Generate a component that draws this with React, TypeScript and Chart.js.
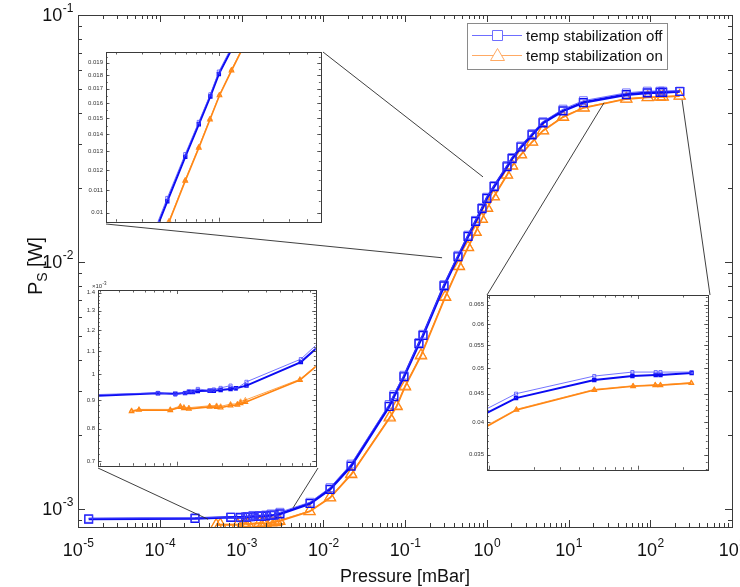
import React, { useEffect, useRef } from "react";
import { Chart, registerables } from "chart.js";
Chart.register(...registerables);

// ---------------- data ----------------
const offPressure = [1.35e-5, 2.7e-4, 7.4e-4, 9.7e-4, 1.13e-3, 1.2e-3, 1.28e-3, 1.38e-3, 1.66e-3, 1.77e-3, 1.97e-3, 2.3e-3, 2.5e-3, 2.95e-3, 6.9e-3, 1.21e-2, 2.19e-2, 6.4e-2, 7.3e-2, 9.7e-2, 0.148, 0.166, 0.3, 0.445, 0.59, 0.73, 0.875, 1.0, 1.23, 1.77, 2.04, 2.62, 3.58, 4.88, 8.57, 15.2, 51, 92, 132, 142, 230];
const offRunThin = [9.15e-4, 9.2e-4, 9.27e-4, 9.2e-4, 9.27e-4, 9.33e-4, 9.32e-4, 9.42e-4, 9.36e-4, 9.4e-4, 9.46e-4, 9.55e-4, 9.42e-4, 9.7e-4, 1.065e-3, 1.22e-3, 1.52e-3, 2.65e-3, 2.9e-3, 3.48e-3, 4.72e-3, 5.1e-3, 8.1e-3, 1.065e-2, 1.285e-2, 1.475e-2, 1.66e-2, 1.83e-2, 2.04e-2, 2.46e-2, 2.65e-2, 2.95e-2, 3.31e-2, 3.7e-2, 4.16e-2, 4.5e-2, 4.84e-2, 4.92e-2, 4.92e-2, 4.92e-2, 4.92e-2];
const offRunThick = [9.1e-4, 9.15e-4, 9.25e-4, 9.24e-4, 9.26e-4, 9.3e-4, 9.3e-4, 9.34e-4, 9.35e-4, 9.35e-4, 9.38e-4, 9.42e-4, 9.45e-4, 9.55e-4, 1.052e-3, 1.2e-3, 1.49e-3, 2.6e-3, 2.85e-3, 3.43e-3, 4.67e-3, 5.04e-3, 8.0e-3, 1.05e-2, 1.27e-2, 1.46e-2, 1.645e-2, 1.81e-2, 2.02e-2, 2.43e-2, 2.62e-2, 2.92e-2, 3.27e-2, 3.66e-2, 4.09e-2, 4.42e-2, 4.76e-2, 4.84e-2, 4.86e-2, 4.86e-2, 4.9e-2];

const onPressure = [4.9e-4, 5.5e-4, 8.97e-4, 1.05e-3, 1.11e-3, 1.2e-3, 1.66e-3, 1.85e-3, 1.97e-3, 2.3e-3, 2.56e-3, 2.69e-3, 2.9e-3, 6.8e-3, 1.21e-2, 2.2e-2, 6.5e-2, 7.9e-2, 0.1, 0.157, 0.31, 0.457, 0.59, 0.73, 0.87, 1.01, 1.22, 1.77, 2.04, 2.62, 3.58, 4.88, 8.57, 15.3, 51, 93, 131, 142, 229];
const onRunThin = [8.62e-4, 8.66e-4, 8.66e-4, 8.78e-4, 8.74e-4, 8.72e-4, 8.79e-4, 8.8e-4, 8.77e-4, 8.85e-4, 8.86e-4, 8.95e-4, 9.0e-4, 9.8e-4, 1.115e-3, 1.39e-3, 2.36e-3, 2.62e-3, 3.15e-3, 4.2e-3, 7.25e-3, 9.65e-3, 1.15e-2, 1.325e-2, 1.495e-2, 1.658e-2, 1.845e-2, 2.26e-2, 2.46e-2, 2.73e-2, 3.07e-2, 3.41e-2, 3.88e-2, 4.22e-2, 4.58e-2, 4.65e-2, 4.67e-2, 4.67e-2, 4.71e-2];
const onRunThick = [8.59e-4, 8.64e-4, 8.63e-4, 8.74e-4, 8.7e-4, 8.68e-4, 8.75e-4, 8.74e-4, 8.72e-4, 8.8e-4, 8.82e-4, 8.88e-4, 8.92e-4, 9.77e-4, 1.11e-3, 1.38e-3, 2.34e-3, 2.6e-3, 3.13e-3, 4.18e-3, 7.2e-3, 9.6e-3, 1.146e-2, 1.32e-2, 1.49e-2, 1.652e-2, 1.838e-2, 2.25e-2, 2.45e-2, 2.72e-2, 3.06e-2, 3.4e-2, 3.86e-2, 4.21e-2, 4.57e-2, 4.64e-2, 4.66e-2, 4.66e-2, 4.7e-2];

const legendLabels = ["temp stabilization off", "temp stabilization on"];
const xTitle = "Pressure [mBar]";
const xTickExponents = [-5, -4, -3, -2, -1, 0, 1, 2, 3];
const yTickExponents = [-3, -2, -1];

const insetTopLeftTicks = [0.01, 0.011, 0.012, 0.013, 0.014, 0.015, 0.016, 0.017, 0.018, 0.019];
const insetTopLeftLabels = ["0.01", "0.011", "0.012", "0.013", "0.014", "0.015", "0.016", "0.017", "0.018", "0.019"];
const insetLowLeftTicks = [0.7e-3, 0.8e-3, 0.9e-3, 1.0e-3, 1.1e-3, 1.2e-3, 1.3e-3, 1.4e-3];
const insetLowLeftLabels = ["0.7", "0.8", "0.9", "1", "1.1", "1.2", "1.3", "1.4"];
const insetRightTicks = [0.035, 0.04, 0.045, 0.05, 0.055, 0.06, 0.065];
const insetRightLabels = ["0.035", "0.04", "0.045", "0.05", "0.055", "0.06", "0.065"];

// ---------------- styles / layout ----------------
const FONT = "'Liberation Sans', Arial, Helvetica, sans-serif";
const AXIS = "#3a3a3a";
const BLUE_THIN = "rgba(70,70,255,0.75)";
const BLUE_THICK = "#0b0bf2";
const ORANGE_THIN = "rgba(255,140,30,0.8)";
const ORANGE_THICK = "#ff8410";
const LEG_BLUE = "rgb(110,110,255)";
const LEG_ORANGE = "rgb(255,170,100)";

const MAIN_AREA = { left: 78, top: 15, right: 732, bottom: 527 };
const MAIN_RANGE = { xMin: 1e-5, xMax: 1e3, yMin: 8.45e-4, yMax: 1e-1 };

type InsetDef = {
  key: string;
  frame: { left: number; top: number; right: number; bottom: number };
  xMin: number; xMax: number; yMin: number; yMax: number;
  ticks: number[]; labels: string[]; minorStep: number;
  zoomFrom: [number, number][];
  corners: ("tl" | "tr" | "bl" | "br")[];
  multiplier?: boolean;
};

const INSETS: InsetDef[] = [
  {
    key: "tl", frame: { left: 106, top: 52, right: 323, bottom: 224 },
    xMin: 0.17, xMax: 4.95, yMin: 0.00962, yMax: 0.0199,
    ticks: insetTopLeftTicks, labels: insetTopLeftLabels, minorStep: 0.0005,
    zoomFrom: [[0.284, 0.0104], [0.9, 0.0221]], corners: ["bl", "tr"],
  },
  {
    key: "bl", frame: { left: 98, top: 290, right: 318, bottom: 468 },
    xMin: 2.9e-4, xMax: 8.7e-3, yMin: 0.687e-3, yMax: 1.415e-3,
    ticks: insetLowLeftTicks, labels: insetLowLeftLabels, minorStep: 0.02e-3,
    zoomFrom: [[3.9e-4, 9.08e-4], [4.27e-3, 1.01e-3]], corners: ["bl", "br"], multiplier: true,
  },
  {
    key: "r", frame: { left: 487, top: 295, right: 710, bottom: 472 },
    xMin: 9.7, xMax: 295, yMin: 0.0329, yMax: 0.0676,
    ticks: insetRightTicks, labels: insetRightLabels, minorStep: 0.001,
    zoomFrom: [[27.2, 0.0441], [245, 0.0453]], corners: ["tl", "tr"],
  },
];
const PAD = { l: 24, t: 12, r: 3, b: 3 };

// ---------------- helpers ----------------
function pts(xs: number[], ys: number[]) {
  return xs.map((x, i) => ({ x, y: ys[i] }));
}

function logTicks(min: number, max: number) {
  const maj: number[] = [];
  const minr: number[] = [];
  for (let k = Math.floor(Math.log10(min)); k <= Math.ceil(Math.log10(max)); k++) {
    for (let m = 1; m <= 9; m++) {
      const v = m * Math.pow(10, k);
      if (v < min * 0.9999 || v > max * 1.0001) continue;
      (m === 1 ? maj : minr).push(v);
    }
  }
  return { maj, minr };
}

function drawX(ctx: CanvasRenderingContext2D, sc: any, a: any, vals: number[], len: number) {
  ctx.beginPath();
  for (const v of vals) {
    const p = Math.round(sc.getPixelForValue(v)) + 0.5;
    ctx.moveTo(p, a.bottom); ctx.lineTo(p, a.bottom - len);
    ctx.moveTo(p, a.top); ctx.lineTo(p, a.top + len);
  }
  ctx.stroke();
}
function drawY(ctx: CanvasRenderingContext2D, sc: any, a: any, vals: number[], len: number) {
  ctx.beginPath();
  for (const v of vals) {
    const p = Math.round(sc.getPixelForValue(v)) + 0.5;
    ctx.moveTo(a.left, p); ctx.lineTo(a.left + len, p);
    ctx.moveTo(a.right, p); ctx.lineTo(a.right - len, p);
  }
  ctx.stroke();
}

function drawPow(ctx: CanvasRenderingContext2D, x: number, y: number, base: string, exp: string, align: "center" | "right", size: number, expSize: number) {
  ctx.font = `${size}px ${FONT}`;
  const w1 = ctx.measureText(base).width;
  ctx.font = `${expSize}px ${FONT}`;
  const w2 = ctx.measureText(exp).width;
  const total = w1 + w2;
  const sx = align === "center" ? x - total / 2 : x - total;
  ctx.textAlign = "left";
  ctx.textBaseline = "alphabetic";
  ctx.font = `${size}px ${FONT}`;
  ctx.fillText(base, sx, y);
  ctx.font = `${expSize}px ${FONT}`;
  ctx.fillText(exp, sx + w1 + 0.5, y - size * 0.48);
}

function buildDatasets(inset: boolean) {
  const r = inset ? 2.2 : 5.5;
  const rt = inset ? 2.6 : 6.5;
  const common = { showLine: true, clip: 0 as any, tension: 0 };
  return [
    { ...common, label: legendLabels[0], data: pts(offPressure, offRunThin), borderColor: BLUE_THIN, borderWidth: 1, pointStyle: "rect", pointRadius: r, pointBorderColor: BLUE_THIN, pointBackgroundColor: "rgba(0,0,0,0)", pointBorderWidth: 1 },
    { ...common, label: legendLabels[0] + " 2", data: pts(offPressure, offRunThick), borderColor: BLUE_THICK, borderWidth: inset ? 2 : 2.6, pointStyle: "rect", pointRadius: r, pointBorderColor: BLUE_THICK, pointBackgroundColor: "rgba(0,0,0,0)", pointBorderWidth: inset ? 1.3 : 1.4 },
    { ...common, label: legendLabels[1], data: pts(onPressure, onRunThin), borderColor: ORANGE_THIN, borderWidth: 1, pointStyle: "triangle", pointRadius: rt, pointBorderColor: ORANGE_THIN, pointBackgroundColor: "rgba(0,0,0,0)", pointBorderWidth: 1 },
    { ...common, label: legendLabels[1] + " 2", data: pts(onPressure, onRunThick), borderColor: ORANGE_THICK, borderWidth: inset ? 1.6 : 1.8, pointStyle: "triangle", pointRadius: rt, pointBorderColor: ORANGE_THICK, pointBackgroundColor: "rgba(0,0,0,0)", pointBorderWidth: 1.2 },
  ];
}

function cornerPx(f: InsetDef["frame"], c: string): [number, number] {
  const x = c[1] === "l" ? f.left : f.right;
  const y = c[0] === "t" ? f.top : f.bottom;
  return [x, y];
}

// ---------------- main chart config ----------------
function mainConfig(): any {
  const deco = {
    id: "mainDeco",
    beforeDraw(chart: any) {
      const ctx = chart.ctx;
      ctx.save();
      ctx.fillStyle = "#fff";
      ctx.fillRect(0, 0, chart.width, chart.height);
      ctx.restore();
    },
    afterDraw(chart: any) {
      const ctx: CanvasRenderingContext2D = chart.ctx;
      const a = chart.chartArea;
      const xs = chart.scales.x;
      const ys = chart.scales.y;
      ctx.save();
      ctx.strokeStyle = AXIS;
      ctx.lineWidth = 1;
      ctx.strokeRect(Math.round(a.left) + 0.5, Math.round(a.top) + 0.5, Math.round(a.right - a.left), Math.round(a.bottom - a.top));
      const xt = logTicks(MAIN_RANGE.xMin, MAIN_RANGE.xMax);
      const yt = logTicks(MAIN_RANGE.yMin, MAIN_RANGE.yMax);
      drawX(ctx, xs, a, xt.maj, 7);
      drawX(ctx, xs, a, xt.minr, 4);
      drawY(ctx, ys, a, yt.maj, 7);
      drawY(ctx, ys, a, yt.minr, 4);
      ctx.fillStyle = "#111";
      for (const e of xTickExponents) {
        const px = xs.getPixelForValue(Math.pow(10, e));
        drawPow(ctx, px, 556, "10", String(e), "center", 18, 12);
      }
      for (const e of yTickExponents) {
        const py = ys.getPixelForValue(Math.pow(10, e));
        drawPow(ctx, 73, py + 6, "10", String(e), "right", 18, 12);
      }
      ctx.font = `18px ${FONT}`;
      ctx.textAlign = "center";
      ctx.textBaseline = "alphabetic";
      ctx.fillText(xTitle, (a.left + a.right) / 2, 582);
      ctx.save();
      ctx.translate(42, 266);
      ctx.rotate(-Math.PI / 2);
      ctx.textAlign = "left";
      ctx.font = `20px ${FONT}`;
      const wP = ctx.measureText("P").width;
      ctx.font = `14px ${FONT}`;
      const wS = ctx.measureText("S").width;
      ctx.font = `20px ${FONT}`;
      const wR = ctx.measureText(" [W]").width;
      const sx = -(wP + wS + wR) / 2;
      ctx.fillText("P", sx, 0);
      ctx.font = `14px ${FONT}`;
      ctx.fillText("S", sx + wP, 5);
      ctx.font = `20px ${FONT}`;
      ctx.fillText(" [W]", sx + wP + wS, 0);
      ctx.restore();
      // connectors
      ctx.strokeStyle = "#2a2a2a";
      ctx.lineWidth = 0.9;
      ctx.beginPath();
      for (const ins of INSETS) {
        ins.zoomFrom.forEach((d, i) => {
          const [cx, cy] = cornerPx(ins.frame, ins.corners[i]);
          ctx.moveTo(cx, cy);
          ctx.lineTo(xs.getPixelForValue(d[0]), ys.getPixelForValue(d[1]));
        });
      }
      ctx.stroke();
      // legend
      const L = { x: 467.5, y: 23.5, w: 200, h: 46 };
      ctx.fillStyle = "#fff";
      ctx.fillRect(L.x, L.y, L.w, L.h);
      ctx.strokeStyle = "#8a8a8a";
      ctx.lineWidth = 1;
      ctx.strokeRect(L.x, L.y, L.w, L.h);
      const rows = [
        { y: 35.5, color: LEG_BLUE, label: legendLabels[0], marker: "sq" },
        { y: 55.5, color: LEG_ORANGE, label: legendLabels[1], marker: "tri" },
      ];
      for (const r of rows) {
        ctx.strokeStyle = r.color;
        ctx.lineWidth = 1;
        ctx.beginPath();
        ctx.moveTo(472, r.y); ctx.lineTo(522, r.y);
        ctx.stroke();
        ctx.fillStyle = "#fff";
        ctx.beginPath();
        if (r.marker === "sq") {
          ctx.rect(492.5, r.y - 5, 10, 10);
        } else {
          ctx.moveTo(497.5, r.y - 7);
          ctx.lineTo(504.5, r.y + 5);
          ctx.lineTo(490.5, r.y + 5);
          ctx.closePath();
        }
        ctx.fill();
        ctx.stroke();
        ctx.fillStyle = "#111";
        ctx.font = `15px ${FONT}`;
        ctx.textAlign = "left";
        ctx.textBaseline = "middle";
        ctx.fillText(r.label, 526, r.y + 1);
      }
      ctx.restore();
    },
  };
  return {
    type: "scatter",
    data: { datasets: buildDatasets(false) },
    options: {
      responsive: false,
      animation: false,
      devicePixelRatio: 1,
      layout: { padding: { left: MAIN_AREA.left, top: MAIN_AREA.top, right: 740 - MAIN_AREA.right, bottom: 587 - MAIN_AREA.bottom } },
      plugins: { legend: { display: false }, tooltip: { enabled: false } },
      scales: {
        x: { type: "logarithmic", min: MAIN_RANGE.xMin, max: MAIN_RANGE.xMax, display: false },
        y: { type: "logarithmic", min: MAIN_RANGE.yMin, max: MAIN_RANGE.yMax, display: false },
      },
    },
    plugins: [deco],
  };
}

// ---------------- inset config ----------------
function insetConfig(ins: InsetDef): any {
  const deco = {
    id: "insetDeco",
    beforeDraw(chart: any) {
      const a = chart.chartArea;
      const ctx = chart.ctx;
      ctx.save();
      ctx.fillStyle = "#fff";
      ctx.fillRect(a.left, a.top, a.right - a.left, a.bottom - a.top);
      ctx.restore();
    },
    afterDraw(chart: any) {
      const ctx: CanvasRenderingContext2D = chart.ctx;
      const a = chart.chartArea;
      const xs = chart.scales.x;
      const ys = chart.scales.y;
      ctx.save();
      ctx.strokeStyle = AXIS;
      ctx.lineWidth = 1;
      ctx.strokeRect(Math.round(a.left) + 0.5, Math.round(a.top) + 0.5, Math.round(a.right - a.left), Math.round(a.bottom - a.top));
      const xt = logTicks(ins.xMin, ins.xMax);
      ctx.lineWidth = 0.8;
      drawX(ctx, xs, a, xt.maj, 4);
      drawX(ctx, xs, a, xt.minr, 2.5);
      drawY(ctx, ys, a, ins.ticks, 3.5);
      const minor: number[] = [];
      const start = Math.ceil(ins.yMin / ins.minorStep);
      const end = Math.floor(ins.yMax / ins.minorStep);
      for (let k = start; k <= end; k++) minor.push(k * ins.minorStep);
      drawY(ctx, ys, a, minor, 1.8);
      ctx.fillStyle = "#333";
      ctx.font = `6px ${FONT}`;
      ctx.textAlign = "right";
      ctx.textBaseline = "middle";
      ins.ticks.forEach((v, i) => {
        ctx.fillText(ins.labels[i], a.left - 3, ys.getPixelForValue(v));
      });
      if (ins.multiplier) {
        drawPow(ctx, a.left + 1, a.top - 2, "\u00d710", "-3", "center", 6, 4.5);
      }
      ctx.restore();
    },
  };
  return {
    type: "scatter",
    data: { datasets: buildDatasets(true) },
    options: {
      responsive: false,
      animation: false,
      devicePixelRatio: 1,
      layout: { padding: { left: PAD.l, top: PAD.t, right: PAD.r, bottom: PAD.b } },
      plugins: { legend: { display: false }, tooltip: { enabled: false } },
      scales: {
        x: { type: "logarithmic", min: ins.xMin, max: ins.xMax, display: false },
        y: { type: "logarithmic", min: ins.yMin, max: ins.yMax, display: false },
      },
    },
    plugins: [deco],
  };
}

export default function App() {
  const mainRef = useRef<HTMLCanvasElement>(null);
  const insetRefs = useRef<(HTMLCanvasElement | null)[]>([]);
  useEffect(() => {
    const charts: Chart[] = [];
    if (mainRef.current) charts.push(new Chart(mainRef.current, mainConfig()));
    INSETS.forEach((ins, i) => {
      const c = insetRefs.current[i];
      if (c) charts.push(new Chart(c, insetConfig(ins)));
    });
    return () => charts.forEach((c) => c.destroy());
  }, []);
  return (
    <div style={{ position: "absolute", left: 0, top: 0, width: 740, height: 587, background: "#fff", overflow: "hidden" }}>
      <canvas ref={mainRef} width={740} height={587} style={{ position: "absolute", left: 0, top: 0 }} />
      {INSETS.map((ins, i) => {
        const w = ins.frame.right - ins.frame.left + PAD.l + PAD.r;
        const h = ins.frame.bottom - ins.frame.top + PAD.t + PAD.b;
        return (
          <canvas
            key={ins.key}
            ref={(el) => { insetRefs.current[i] = el; }}
            width={w}
            height={h}
            style={{ position: "absolute", left: ins.frame.left - PAD.l, top: ins.frame.top - PAD.t }}
          />
        );
      })}
    </div>
  );
}
